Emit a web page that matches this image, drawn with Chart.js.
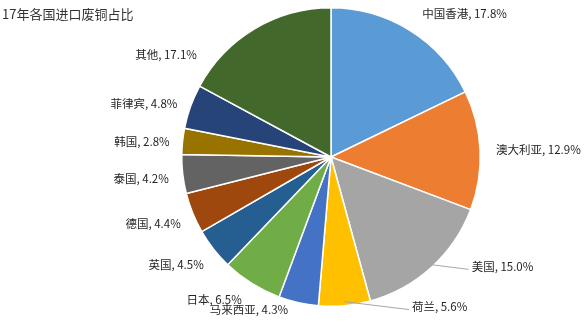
<!DOCTYPE html>
<html>
<head>
<meta charset="utf-8">
<script src="https://cdn.jsdelivr.net/npm/chart.js@4"></script>
<style>
  html, body { margin: 0; padding: 0; background: #fff; }
  #wrap { width: 588px; height: 330px; position: relative; }
</style>
</head>
<body>
<div id="wrap"><canvas id="c"></canvas></div>
<script>
const chartTitle = "17年各国进口废铜占比";
const categories = ["中国香港", "澳大利亚", "美国", "荷兰", "马来西亚", "日本", "英国", "德国", "泰国", "韩国", "菲律宾", "其他"];
const shares = [17.8, 12.9, 15.0, 5.6, 4.3, 6.5, 4.5, 4.4, 4.2, 2.8, 4.8, 17.1];
const sliceColors = ["#5B9BD5", "#ED7D31", "#A5A5A5", "#FFC000", "#4472C4", "#70AD47",
                     "#255E91", "#9E480E", "#636363", "#997300", "#264478", "#43682B"];
// label nudges (px) where the labels got pushed around to avoid overlap, plus leader flag
const labelNudge = [
  [4, -4, false], [1, 0, false], [30, -12, true], [66, -14, true], [-7, -8, false], [-2, 3, false],
  [2, 6, false], [2, 5, false], [1, 3, false], [2, 2, false], [1, 2, false], [-50, 39, false],
];

const FONT = '"Noto Sans CJK SC", "Noto Sans", sans-serif';

const outerLabels = {
  id: "outerLabels",
  afterDraw(chart) {
    const { ctx } = chart;
    const meta = chart.getDatasetMeta(0);
    ctx.save();
    ctx.font = "13px " + FONT;
    ctx.fillStyle = "#333";
    ctx.textBaseline = "middle";
    ctx.textAlign = "left";
    ctx.fillText(chartTitle, 2, 14);

    ctx.font = "11.5px " + FONT;
    meta.data.forEach((arc, i) => {
      const mid = (arc.startAngle + arc.endAngle) / 2;
      const r = arc.outerRadius + 15;
      const bx = arc.x + Math.cos(mid) * r;
      const by = arc.y + Math.sin(mid) * r;
      const [dx, dy, leader] = labelNudge[i];
      const right = Math.cos(mid) >= 0;
      const text = `${categories[i]}, ${shares[i].toFixed(1)}%`;
      const tx = bx + dx;
      const ty = by + dy;
      ctx.textAlign = right ? "left" : "right";
      if (leader) {
        const ex = arc.x + Math.cos(mid) * (arc.outerRadius - 4);
        const ey = arc.y + Math.sin(mid) * (arc.outerRadius - 4);
        ctx.strokeStyle = "#A6A6A6";
        ctx.lineWidth = 1;
        ctx.beginPath();
        ctx.moveTo(ex, ey);
        ctx.lineTo(tx - 3, ty + 3);
        ctx.stroke();
      }
      ctx.fillStyle = "#262626";
      ctx.fillText(text, tx, ty);
    });
    ctx.restore();
  },
};

new Chart(document.getElementById("c"), {
  type: "pie",
  data: {
    labels: categories,
    datasets: [{
      data: shares,
      backgroundColor: sliceColors,
      borderColor: "#ffffff",
      borderWidth: 1.5,
    }],
  },
  options: {
    responsive: true,
    maintainAspectRatio: false,
    animation: false,
    layout: { padding: { left: 181, right: 107, top: 7, bottom: 23 } },
    plugins: {
      legend: { display: false },
      tooltip: { enabled: false },
    },
  },
  plugins: [outerLabels],
});
</script>
</body>
</html>
